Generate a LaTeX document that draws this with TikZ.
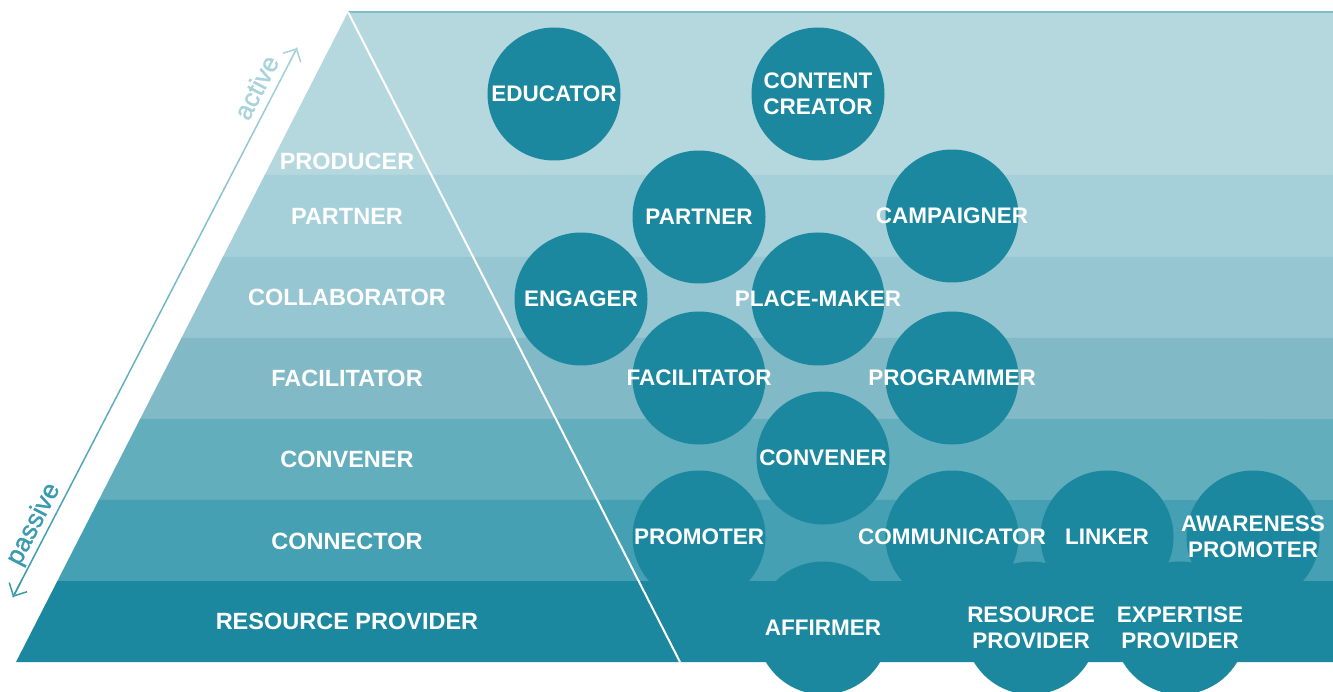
\documentclass[tikz,border=0pt]{standalone}
\usepackage{fontspec}
\setmainfont{Liberation Sans}
\newfontfamily\scalefont[FakeBold=1.3]{Liberation Sans}
\usetikzlibrary{arrows.meta,calc}

\definecolor{band1}{HTML}{B5D8DF}
\definecolor{band2}{HTML}{A6D0D9}
\definecolor{band3}{HTML}{96C6D1}
\definecolor{band4}{HTML}{81BAC6}
\definecolor{band5}{HTML}{63AEBD}
\definecolor{band6}{HTML}{45A0B3}
\definecolor{band7}{HTML}{1C889F}
\definecolor{rim}{HTML}{7CBECA}
\definecolor{activecol}{HTML}{A9D3DC}
\definecolor{passivecol}{HTML}{3A9BB0}

\tikzset{
  tier/.style={text=white,font=\bfseries\fontsize{23.5}{27}\selectfont},
  disc/.style={circle,fill=band7,minimum size=133pt,inner sep=0pt},
  role/.style={text=white,align=center,inner sep=0pt,font=\bfseries\fontsize{22.5}{26}\selectfont},
  sidelabel/.style={font=\scalefont\fontsize{26}{30}\selectfont,rotate=62.65,anchor=base,inner sep=0pt},
}

\begin{document}
\begin{tikzpicture}[x=1pt,y=-1pt]
  \useasboundingbox (0,0) rectangle (1333,692);
  \clip (0,0) rectangle (1333,692);
  \coordinate (apex) at (348,12);
  \coordinate (foot) at (16,662);
  \coordinate (edge) at (680,662);
  % bands, top to bottom
  \foreach \a/\b/\c in {12/175/band1,175/257/band2,257/338/band3,338/419/band4,419/500/band5,500/581/band6,581/662/band7}
    \fill[\c] ($(apex)!{(\a-12)/650}!(foot)$) -- ($(apex)!{(\b-12)/650}!(foot)$) -- (1333,\b) -- (1333,\a) -- cycle;
  \draw[rim,line width=1.5pt] (apex) -- (1333,12);
  \draw[white,line width=2pt] (apex) -- (edge);

  % pyramid tiers
  \node[tier] (producer) at (347,161) {PRODUCER};
  \node[tier] (partner) at (347,216) {PARTNER};
  \node[tier] (collaborator) at (347,297) {COLLABORATOR};
  \node[tier] (facilitator) at (347,378) {FACILITATOR};
  \node[tier] (convener) at (347,459) {CONVENER};
  \node[tier] (connector) at (347,541) {CONNECTOR};
  \node[tier] (provider) at (347,621) {RESOURCE PROVIDER};

  % roles
  \node[disc,label={[role]center:EDUCATOR}] (educator) at (554,94) {};
  \node[disc,label={[role]center:{CONTENT\\CREATOR}}] (creator) at (818,94) {};
  \node[disc,label={[role]center:PARTNER}] (partnerrole) at (699,217) {};
  \node[disc,label={[role]center:CAMPAIGNER}] (campaigner) at (952,216) {};
  \node[disc,label={[role]center:ENGAGER}] (engager) at (581,299) {};
  \node[disc,label={[role]center:PLACE-MAKER}] (placemaker) at (818,299) {};
  \node[disc,label={[role]center:FACILITATOR}] (facilitatorrole) at (699,378) {};
  \node[disc,label={[role]center:PROGRAMMER}] (programmer) at (952,378) {};
  \node[disc,label={[role]center:CONVENER}] (convenerrole) at (823,458) {};
  \node[disc,label={[role]center:PROMOTER}] (promoter) at (699,537) {};
  \node[disc,label={[role]center:LINKER}] (linker) at (1107,537) {};
  \node[disc,label={[role]center:COMMUNICATOR}] (communicator) at (952,537) {};
  \node[disc,label={[role]center:{AWARENESS\\PROMOTER}}] (awareness) at (1253,537) {};
  \node[disc,label={[role]center:AFFIRMER}] (affirmer) at (823,628) {};
  \node[disc,label={[role]center:{RESOURCE\\PROVIDER}}] (resource) at (1031,628) {};
  \node[disc,label={[role]center:{EXPERTISE\\PROVIDER}}] (expertise) at (1180,628) {};

  % passive -> active scale
  \coordinate (pas) at (13,597);
  \coordinate (act) at (297,48);
  \foreach \i [evaluate=\i as \p using int(5*\i)] in {0,...,19}
    \draw[activecol!\p!passivecol,line width=1.5pt,line cap=round] ($(pas)!{\i/20}!(act)$) -- ($(pas)!{(\i+1)/20}!(act)$);
  \draw[activecol,line width=1.5pt,-{Straight Barb[length=10pt,width=20pt]}] ($(pas)!0.97!(act)$) -- (act);
  \draw[passivecol,line width=1.5pt,-{Straight Barb[length=10pt,width=20pt]}] ($(pas)!0.03!(act)$) -- (pas);
  \node[sidelabel,text=activecol] (activetxt) at ($(pas)!0.913!(act)!9pt!90:(act)$) {active};
  \node[sidelabel,text=passivecol] (passivetxt) at ($(pas)!0.12!(act)!8pt!90:(act)$) {passive};
\end{tikzpicture}
\end{document}
